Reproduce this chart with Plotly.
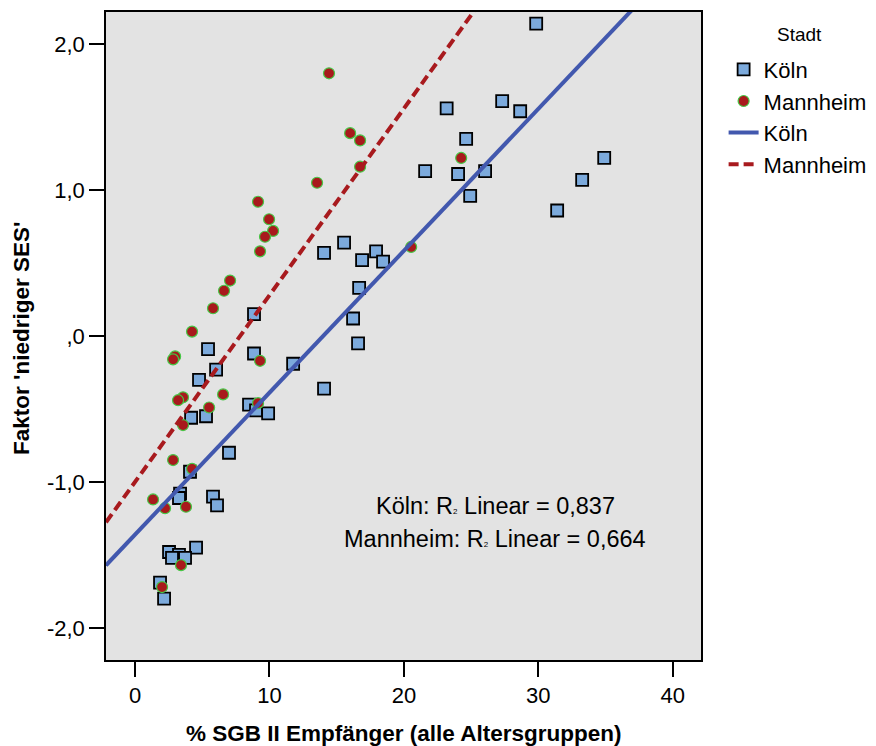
import numpy as np
import plotly.graph_objects as go

# % SGB II recipients (x) and factor score 'niedriger SES' (y) per district
koeln_x = [29.84, 23.18, 27.31, 28.65, 24.63, 34.90, 21.58, 24.03, 26.04, 33.26,
           24.93, 31.40, 15.55, 14.06, 17.93, 16.89, 18.45, 16.67, 16.22, 16.59,
           8.85, 5.43, 8.85, 11.76, 6.03, 4.76, 14.06, 8.48, 9.00, 9.90,
           5.28, 4.17, 6.99, 4.09, 3.35, 3.27, 5.80, 6.10, 4.54, 2.53,
           3.27, 3.72, 2.75, 1.86, 2.16]
koeln_y = [2.14, 1.56, 1.61, 1.54, 1.35, 1.22, 1.13, 1.11, 1.13, 1.07,
           0.96, 0.86, 0.64, 0.57, 0.58, 0.52, 0.51, 0.33, 0.12, -0.05,
           0.15, -0.09, -0.12, -0.19, -0.23, -0.30, -0.36, -0.47, -0.51, -0.53,
           -0.55, -0.56, -0.80, -0.93, -1.08, -1.11, -1.10, -1.16, -1.45, -1.48,
           -1.50, -1.52, -1.52, -1.69, -1.80]

mannheim_x = [14.43, 16.00, 16.74, 16.74, 13.54, 24.26, 9.15, 9.97, 10.27, 9.67,
              9.30, 20.54, 7.07, 6.62, 5.80, 4.24, 2.98, 2.83, 9.30, 3.57,
              3.20, 6.55, 5.51, 9.15, 3.57, 2.83, 4.24, 3.79, 1.34, 2.23,
              3.42, 2.01]
mannheim_y = [1.80, 1.39, 1.34, 1.16, 1.05, 1.22, 0.92, 0.80, 0.72, 0.68,
              0.58, 0.61, 0.38, 0.31, 0.19, 0.03, -0.14, -0.16, -0.17, -0.42,
              -0.44, -0.40, -0.49, -0.46, -0.61, -0.85, -0.91, -1.17, -1.12, -1.18,
              -1.57, -1.72]

x_tickvals = [0, 10, 20, 30, 40]
y_tickvals = [2.0, 1.0, 0.0, -1.0, -2.0]
y_ticktext = ["2,0", "1,0", ",0", "-1,0", "-2,0"]

SQ = "<span style='font-size:8px'>2</span>"
r2_labels = ["Köln: R" + SQ + " Linear = 0,837",
             "Mannheim: R" + SQ + " Linear = 0,664"]

X_RANGE = [-2.16, 42.1]
Y_RANGE = [-2.22, 2.22]

FONT = "Liberation Sans, Arial, sans-serif"
BLUE_FILL = "rgb(124,170,220)"
RED_FILL = "rgb(168,26,28)"
GREEN_EDGE = "rgb(70,200,70)"
BLUE_LINE = "rgb(66,88,174)"
RED_LINE = "rgb(168,26,30)"


def linear_fit(xs, ys):
    slope, intercept = np.polyfit(np.asarray(xs), np.asarray(ys), 1)
    xl = np.array(X_RANGE)
    return xl, intercept + slope * xl


fig = go.Figure()

fig.add_trace(go.Scatter(
    x=koeln_x, y=koeln_y, mode="markers", name="Köln",
    marker=dict(symbol="square", size=12, color=BLUE_FILL,
                line=dict(color="black", width=1.8)),
))
fig.add_trace(go.Scatter(
    x=mannheim_x, y=mannheim_y, mode="markers", name="Mannheim",
    marker=dict(symbol="circle", size=11, color=RED_FILL,
                line=dict(color=GREEN_EDGE, width=1.2)),
))

kx, ky = linear_fit(koeln_x, koeln_y)
fig.add_trace(go.Scatter(
    x=kx, y=ky, mode="lines", name="Köln",
    line=dict(color=BLUE_LINE, width=4),
))
mx, my = linear_fit(mannheim_x, mannheim_y)
fig.add_trace(go.Scatter(
    x=mx, y=my, mode="lines", name="Mannheim",
    line=dict(color=RED_LINE, width=4, dash="10px,5px"),
))

axis_common = dict(
    showgrid=False, zeroline=False,
    showline=True, linecolor="black", linewidth=1.5, mirror=True,
    ticks="outside", ticklen=15, tickwidth=1.5, tickcolor="black",
    tickfont=dict(family=FONT, size=22, color="black"),
)

fig.update_xaxes(range=X_RANGE, tickvals=x_tickvals, **axis_common)
fig.update_yaxes(range=Y_RANGE, tickvals=y_tickvals, ticktext=y_ticktext,
                 **axis_common)

fig.update_layout(
    width=876, height=746,
    margin=dict(l=106, r=175, t=12, b=86, autoexpand=False),
    plot_bgcolor="rgb(227,227,227)",
    paper_bgcolor="white",
    font=dict(family=FONT, color="black"),
    legend=dict(
        x=1.038, xanchor="left", y=0.9435, yanchor="top",
        font=dict(family=FONT, size=22, color="black"),
        bgcolor="rgba(0,0,0,0)",
    ),
    annotations=[
        dict(text="Stadt", xref="paper", yref="paper", x=1.165, y=0.9657,
             xanchor="center", yanchor="middle", showarrow=False,
             font=dict(family=FONT, size=19, color="black")),
        dict(text="% SGB II Empfänger (alle Altersgruppen)", xref="paper",
             yref="paper", x=0.5, y=-0.1127, xanchor="center",
             yanchor="middle", showarrow=False,
             font=dict(family=FONT, size=22.5, color="black", weight="bold")),
        dict(text="Faktor 'niedriger SES'", xref="paper", yref="paper",
             x=-0.1412, y=0.497, xanchor="center", yanchor="middle",
             textangle=-90, showarrow=False,
             font=dict(family=FONT, size=22.5, color="black", weight="bold")),
        dict(text=r2_labels[0], xref="paper", yref="paper", x=0.6538,
             y=0.2377, xanchor="center", yanchor="middle", showarrow=False,
             font=dict(family=FONT, size=23.5, color="black")),
        dict(text=r2_labels[1], xref="paper", yref="paper", x=0.6538,
             y=0.1867, xanchor="center", yanchor="middle", showarrow=False,
             font=dict(family=FONT, size=23.5, color="black")),
    ],
)

fig.write_html("out.html")
